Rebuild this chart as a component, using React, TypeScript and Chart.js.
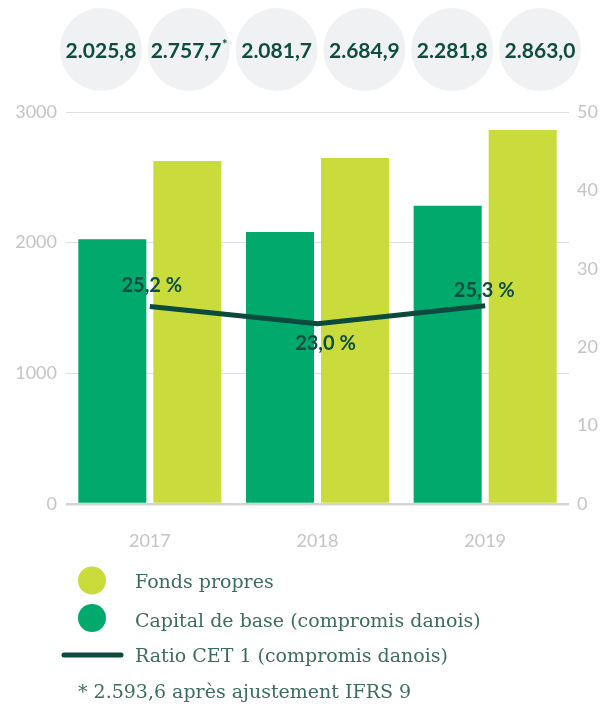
import React, { useEffect, useRef } from "react";
import { Chart, registerables } from "chart.js";

Chart.register(...registerables);

const years = ["2017", "2018", "2019"];
const capitalDeBase = [2025.8, 2081.7, 2281.8];
const fondsPropres = [2625, 2648, 2863.0];
const ratioCET1 = [25.2, 23.0, 25.3];
const ratioLabels = ["25,2 %", "23,0 %", "25,3 %"];
const topValues = ["2.025,8", "2.757,7", "2.081,7", "2.684,9", "2.281,8", "2.863,0"];
const topMarks = ["", "*", "", "", "", ""];
const legendLabels = [
  "Fonds propres",
  "Capital de base (compromis danois)",
  "Ratio CET 1 (compromis danois)",
];
const footnote = "* 2.593,6 après ajustement IFRS 9";

const GREEN = "#02a96c";
const LIME = "#c9dc3c";
const DARK = "#0b4a3c";
const TEXT_DARK = "#0d4d40";
const LEGEND_TEXT = "#3c6b5f";
const TICK = "#c4c4c4";

const labelOffsets = [
  [2, -21],
  [8, 20],
  [-1, -15],
];

const overlayPlugin = {
  id: "overlay",
  afterDatasetsDraw(chart: any) {
    const ctx = chart.ctx;
    const meta = chart.getDatasetMeta(0);
    ctx.save();
    ctx.font = "bold 20px Lato";
    ctx.fillStyle = TEXT_DARK;
    ctx.textAlign = "center";
    ctx.textBaseline = "middle";
    meta.data.forEach((pt: any, i: number) => {
      const [dx, dy] = labelOffsets[i];
      ctx.fillText(ratioLabels[i], pt.x + dx, pt.y + dy);
    });
    ctx.restore();
  },
  afterDraw(chart: any) {
    const ctx = chart.ctx;
    ctx.save();
    // top value bubbles
    topValues.forEach((v, i) => {
      const cx = 101 + i * 87.8;
      const cy = 49.5;
      ctx.fillStyle = "#f0f1f3";
      ctx.beginPath();
      ctx.ellipse(cx, cy, 41, 41.5, 0, 0, Math.PI * 2);
      ctx.fill();
      ctx.font = "bold 21px Lato";
      const w = ctx.measureText(v).width;
      let mw = 0;
      if (topMarks[i]) {
        ctx.font = "bold 13px Lato";
        mw = ctx.measureText(topMarks[i]).width;
      }
      const start = cx - (w + mw) / 2;
      ctx.fillStyle = TEXT_DARK;
      ctx.textAlign = "left";
      ctx.textBaseline = "middle";
      ctx.font = "bold 21px Lato";
      ctx.fillText(v, start, 51);
      if (topMarks[i]) {
        ctx.font = "bold 13px Lato";
        ctx.fillText(topMarks[i], start + w + 0.5, 45);
      }
    });

    // legend
    ctx.fillStyle = LIME;
    ctx.beginPath();
    ctx.ellipse(92, 580.5, 14, 14, 0, 0, Math.PI * 2);
    ctx.fill();
    ctx.fillStyle = GREEN;
    ctx.beginPath();
    ctx.ellipse(92, 618, 14, 14, 0, 0, Math.PI * 2);
    ctx.fill();
    ctx.strokeStyle = DARK;
    ctx.lineWidth = 5;
    ctx.lineCap = "round";
    ctx.beginPath();
    ctx.moveTo(64, 655);
    ctx.lineTo(121, 655);
    ctx.stroke();

    ctx.fillStyle = LEGEND_TEXT;
    ctx.font = "19px 'DejaVu Serif'";
    ctx.textAlign = "left";
    ctx.textBaseline = "middle";
    ctx.fillText(legendLabels[0], 135, 583);
    ctx.fillText(legendLabels[1], 135, 622);
    ctx.fillText(legendLabels[2], 135, 657);
    ctx.fillText(footnote, 78, 693);
    ctx.restore();
  },
};

export default function App() {
  const ref = useRef<HTMLCanvasElement>(null);
  useEffect(() => {
    if (!ref.current) return;
    const chart = new Chart(ref.current, {
      type: "bar",
      data: {
        labels: years,
        datasets: [
          {
            type: "line",
            label: legendLabels[2],
            data: ratioCET1,
            yAxisID: "y1",
            borderColor: DARK,
            borderWidth: 5,
            pointRadius: 0,
            tension: 0,
            order: 0,
          } as any,
          {
            label: legendLabels[1],
            data: capitalDeBase,
            backgroundColor: GREEN,
            yAxisID: "y",
            order: 1,
            categoryPercentage: 0.8946,
            barPercentage: 0.907,
          },
          {
            label: legendLabels[0],
            data: fondsPropres,
            backgroundColor: LIME,
            yAxisID: "y",
            order: 1,
            categoryPercentage: 0.8946,
            barPercentage: 0.907,
          },
        ],
      },
      options: {
        responsive: false,
        animation: false,
        layout: { padding: { top: 112, left: 0, right: 0, bottom: 0 } },
        plugins: { legend: { display: false }, tooltip: { enabled: false } },
        scales: {
          x: {
            grid: { display: false },
            border: { display: false },
            ticks: { color: TICK, font: { family: "Lato", size: 18 }, padding: 18 },
            afterFit: (s: any) => {
              s.height = 204;
            },
          },
          y: {
            position: "left",
            min: 0,
            max: 3000,
            ticks: {
              stepSize: 1000,
              color: TICK,
              font: { family: "Lato", size: 18 },
              padding: 9,
              callback: (v: any) => String(v),
            },
            grid: {
              drawTicks: false,
              color: (c: any) => (c.tick && c.tick.value === 0 ? "#d4d4d4" : "#dedede"),
              lineWidth: (c: any) => (c.tick && c.tick.value === 0 ? 2.5 : 1),
            },
            border: { display: false },
            afterFit: (s: any) => {
              s.width = 66;
            },
          },
          y1: {
            position: "right",
            min: 0,
            max: 50,
            ticks: {
              stepSize: 10,
              color: TICK,
              font: { family: "Lato", size: 18 },
              padding: 8,
              callback: (v: any) => String(v),
            },
            grid: { display: false, drawTicks: false },
            border: { display: false },
            afterFit: (s: any) => {
              s.width = 45;
            },
          },
        },
      },
      plugins: [overlayPlugin],
    });
    return () => chart.destroy();
  }, []);
  return (
    <div style={{ position: "fixed", left: 0, top: 0, width: 614, height: 708, background: "#fff" }}>
      <canvas ref={ref} width={614} height={708} />
    </div>
  );
}
